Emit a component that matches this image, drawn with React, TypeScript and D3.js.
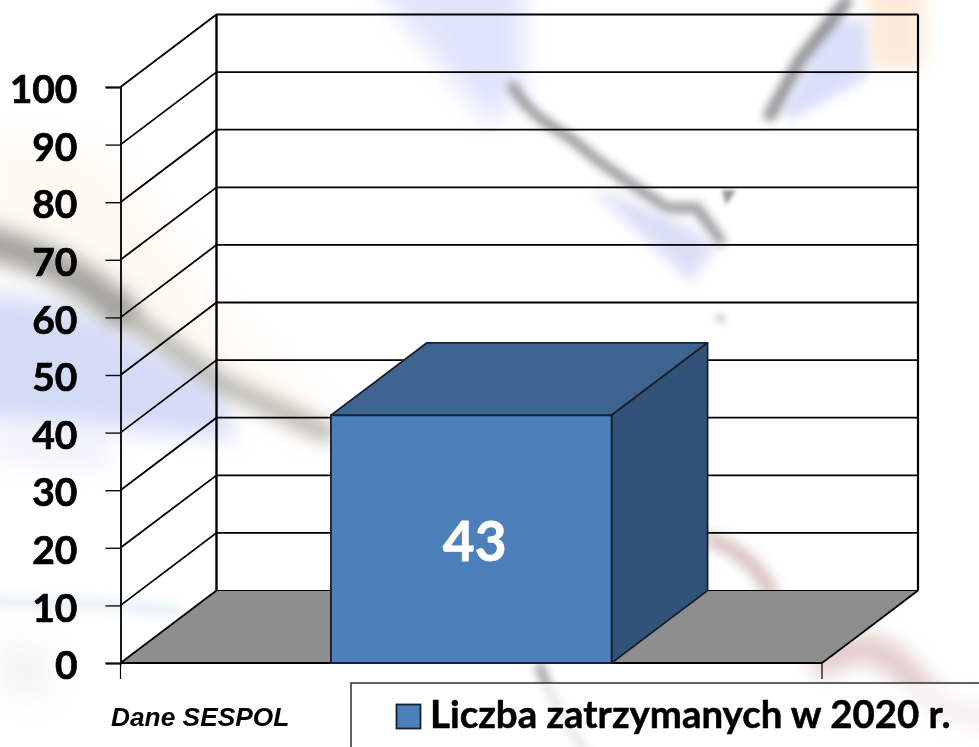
import React, { useEffect, useRef } from "react";
import * as d3 from "d3";

const categories = ["Liczba zatrzymanych w 2020 r."];
const seriesValues = [43];
const yTicks = [0, 10, 20, 30, 40, 50, 60, 70, 80, 90, 100];

const WIDTH = 979;
const HEIGHT = 747;
const DEPTH_X = 96;
const DEPTH_Y = -72.5;

// blurred photo behind the chart, only a rough copy of it
const backdrop = [
  { d: "M-20,130 L110,150 L240,330 L340,420 L320,450 L100,300 L-20,240 Z", fill: "#fbf6e6", blur: 18, o: 0.55 },
  { d: "M-20,290 L70,305 L220,385 L235,440 L60,425 L-20,420 Z", fill: "#cdd5f6", blur: 11, o: 0.85 },
  { d: "M-20,240 C40,255 80,275 120,310", stroke: "#8a8883", w: 32, blur: 10, o: 0.8 },
  { d: "M120,310 C160,340 190,360 225,385 L325,432", stroke: "#a3a198", w: 22, blur: 8, o: 0.65 },
  { d: "M-20,600 C40,606 90,600 180,612", stroke: "#cfe2ee", w: 8, blur: 6, o: 0.7 },
  { d: "M-10,430 L110,430 L110,470 L-10,460 Z", fill: "#e4eafa", blur: 14, o: 0.6 },
  { d: "M0,640 L50,650 L50,700 L0,690 Z", fill: "#e4e4e4", blur: 16, o: 0.45 },
  { d: "M370,-20 L525,-20 L525,85 L490,125 Z", fill: "#dde2fb", blur: 12, o: 0.9 },
  { d: "M513,87 C530,115 550,125 573,140 C590,155 610,170 630,183 L667,208 L697,208 L720,240", stroke: "#77777c", w: 11, blur: 4, o: 0.7 },
  { d: "M590,187 L667,215 L718,245 L690,282 Z", fill: "#d2d7f4", blur: 7, o: 0.8 },
  { d: "M722,190 L736,190 L726,205 Z", fill: "#77736d", blur: 2, o: 0.75 },
  { d: "M720,318 L721,319", stroke: "#cfae9f", w: 9, blur: 3, o: 0.6 },
  { d: "M868,-20 L925,-20 L925,68 L868,68 Z", fill: "#fde6d2", blur: 8, o: 0.8 },
  { d: "M830,20 L866,20 L868,78 L790,120 L782,112 Z", fill: "#d5dcf9", blur: 6, o: 0.9 },
  { d: "M846,2 L800,60 L770,115", stroke: "#77777c", w: 13, blur: 4, o: 0.75 },
  { d: "M712,540 C735,548 757,565 770,590", stroke: "#cdb1ae", w: 16, blur: 6, o: 0.75 },
  { d: "M825,662 C850,645 880,640 907,674 C925,700 945,715 995,718", stroke: "#d9bcba", w: 28, blur: 10, o: 0.8 },
  { d: "M540,667 C545,685 560,712 585,752", stroke: "#85817e", w: 10, blur: 4.5, o: 0.7 },
];

export default function App() {
  const ref = useRef<SVGSVGElement>(null);

  useEffect(() => {
    const root = d3.select(ref.current);
    root.selectAll("*").remove();

    const x = d3.scaleBand()
      .domain(categories)
      .range([120.5, 822])
      .paddingInner(0)
      .paddingOuter(0.75);
    const y = d3.scaleLinear().domain([0, 100]).range([663, 87]);
    const [x0, x1] = x.range();

    const defs = root.append("defs");
    const addBlur = (id, amount) => {
      defs.append("filter")
        .attr("id", id)
        .attr("filterUnits", "userSpaceOnUse")
        .attr("x", 0).attr("y", 0).attr("width", WIDTH).attr("height", HEIGHT)
        .append("feGaussianBlur")
        .attr("stdDeviation", amount);
    };
    backdrop.forEach((b, i) => addBlur("bl" + i, b.blur));
    addBlur("soft", 0.55);

    root.append("rect").attr("width", WIDTH).attr("height", HEIGHT).attr("fill", "#fff");
    root.selectAll(".bg")
      .data(backdrop)
      .enter()
      .append("path")
      .attr("class", "bg")
      .attr("d", d => d.d)
      .attr("fill", d => d.fill || "none")
      .attr("stroke", d => d.stroke || "none")
      .attr("stroke-width", d => d.w || 0)
      .attr("stroke-linecap", "round")
      .attr("opacity", d => d.o)
      .attr("filter", (d, i) => `url(#bl${i})`);

    // the source is an upscaled slide, everything is a bit soft
    const svg = root.append("g").attr("filter", "url(#soft)");

    // floor
    const y0 = y(0);
    svg.append("path")
      .attr("d", `M${x0},${y0}L${x0 + DEPTH_X},${y0 + DEPTH_Y}L${x1 + DEPTH_X},${y0 + DEPTH_Y}L${x1},${y0}Z`)
      .attr("fill", "#8e8e8e");

    // gridlines running over side and back wall
    svg.selectAll(".grid")
      .data(yTicks.slice(1))
      .enter()
      .append("path")
      .attr("class", "grid")
      .attr("fill", "none")
      .attr("stroke", "#000")
      .attr("stroke-width", 1.8)
      .attr("d", d => `M${x0},${y(d)}L${x0 + DEPTH_X},${y(d) + DEPTH_Y}L${x1 + DEPTH_X},${y(d) + DEPTH_Y}`);

    const edges = svg.append("g").attr("fill", "none").attr("stroke", "#000");
    edges.append("path")
      .attr("stroke-width", 2.4)
      .attr("d", `M${x0 + DEPTH_X},${y(100) + DEPTH_Y}V${y0 + DEPTH_Y}`);
    edges.append("path")
      .attr("stroke-width", 2.2)
      .attr("d", `M${x1 + DEPTH_X},${y(100) + DEPTH_Y}V${y0 + DEPTH_Y}`);
    edges.append("path")
      .attr("stroke-width", 1.8)
      .attr("d", `M${x0},${y0}L${x0 + DEPTH_X},${y0 + DEPTH_Y}`);
    edges.append("path")
      .attr("stroke-width", 1.8)
      .attr("d", `M${x1},${y0}L${x1 + DEPTH_X},${y0 + DEPTH_Y}`);
    edges.append("path")
      .attr("stroke-width", 1.2)
      .attr("d", `M${x0 + DEPTH_X},${y0 + DEPTH_Y}H${x1 + DEPTH_X}`);
    edges.append("path")
      .attr("stroke-width", 2)
      .attr("d", `M${x0},${y0}H${x1}`);
    edges.append("path")
      .attr("stroke-width", 1.2)
      .attr("d", `M${x0},${y0}V${y0 + 16}M${x1},${y0}V${y0 + 16}`);

    // y axis
    const axis = svg.append("g")
      .attr("transform", `translate(${x0},0)`)
      .call(d3.axisLeft(y).tickValues(yTicks).tickSize(15).tickPadding(28));
    axis.select(".domain").attr("stroke", "#000").attr("stroke-width", 1.8);
    axis.selectAll(".tick line").attr("stroke", "#111").attr("stroke-width", 1.4);
    axis.selectAll("text")
      .attr("font-family", "Lato")
      .attr("font-weight", 700)
      .attr("font-size", 39)
      .attr("fill", "#000")
      .attr("stroke", "#000")
      .attr("stroke-width", 0.7)
      .attr("dy", "0.4em");

    // the 3d bar
    const bars = svg.selectAll(".bar")
      .data(seriesValues)
      .enter()
      .append("g")
      .attr("class", "bar")
      .attr("stroke", "#14202e")
      .attr("stroke-width", 1.8)
      .attr("stroke-linejoin", "round");
    const bw = x.bandwidth();
    const bx = x(categories[0]);
    bars.append("path")
      .attr("fill", "#3e638f")
      .attr("d", d => `M${bx},${y(d)}L${bx + DEPTH_X},${y(d) + DEPTH_Y}H${bx + bw + DEPTH_X}L${bx + bw},${y(d)}Z`);
    bars.append("path")
      .attr("fill", "#325279")
      .attr("d", d => `M${bx + bw},${y(d)}L${bx + bw + DEPTH_X},${y(d) + DEPTH_Y}V${y0 + DEPTH_Y}L${bx + bw},${y0}Z`);
    bars.append("rect")
      .attr("fill", "#4e7fbb")
      .attr("x", bx)
      .attr("y", d => y(d))
      .attr("width", bw)
      .attr("height", d => y0 - y(d));
    bars.append("text")
      .attr("x", bx + bw / 2 + 3.5)
      .attr("y", 561)
      .attr("text-anchor", "middle")
      .attr("stroke", "#fff")
      .attr("stroke-width", 0.8)
      .attr("fill", "#fff")
      .attr("font-family", "Lato")
      .attr("font-weight", 700)
      .attr("font-size", 55)
      .text(d => d);

    // legend
    const legend = svg.append("g");
    legend.append("rect")
      .attr("x", 351)
      .attr("y", 683)
      .attr("width", 700)
      .attr("height", 100)
      .attr("fill", "#fff")
      .attr("fill-opacity", 0.75)
      .attr("stroke", "#222")
      .attr("stroke-width", 1.4);
    legend.append("rect")
      .attr("x", 396.5)
      .attr("y", 704.5)
      .attr("width", 24)
      .attr("height", 24)
      .attr("fill", "#4e7fbb")
      .attr("stroke", "#14202e")
      .attr("stroke-width", 1.8);
    legend.append("text")
      .attr("x", 430)
      .attr("y", 728)
      .attr("font-family", "Lato")
      .attr("font-weight", 700)
      .attr("font-size", 38.4)
      .attr("fill", "#000")
      .attr("stroke", "#000")
      .attr("stroke-width", 0.5)
      .text(categories[0]);

    svg.append("text")
      .attr("x", 111)
      .attr("y", 725.5)
      .attr("font-family", "Liberation Sans")
      .attr("font-style", "italic")
      .attr("font-weight", 700)
      .attr("font-size", 26.3)
      .attr("fill", "#000")
      .text("Dane SESPOL");
  }, []);

  return (
    <svg
      ref={ref}
      width={WIDTH}
      height={HEIGHT}
      style={{ position: "absolute", left: 0, top: 0, display: "block" }}
    />
  );
}
